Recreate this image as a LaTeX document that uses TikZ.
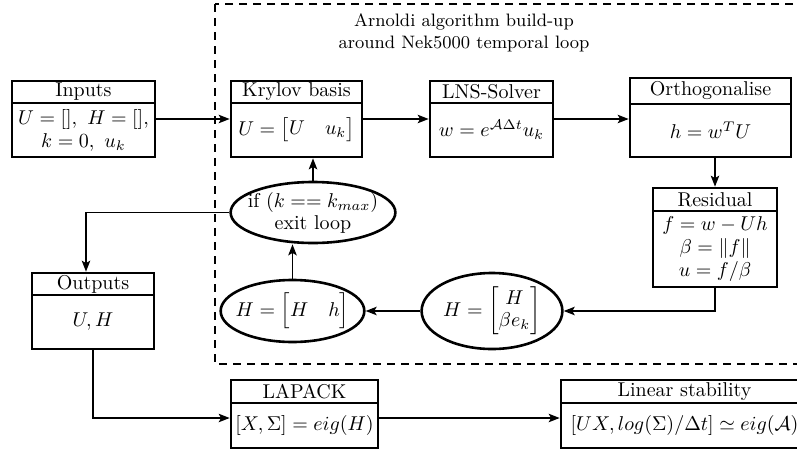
\documentclass[tikz,border=0pt]{standalone}
\usepackage{amsmath}
\usetikzlibrary{arrows.meta,shapes.geometric,calc}
\tikzset{
  boxframe/.style={draw, line width=1.3pt, inner sep=0pt},
  boxline/.style={line width=1.3pt},
  hdr/.style={inner sep=0pt, align=center},
  bodytxt/.style={inner sep=0pt, align=center, font=\fontsize{10}{11.5}\selectfont},
  oval/.style={draw, ellipse, line width=1.3pt, align=center, font=\fontsize{10}{11}\selectfont},
  conn/.style={line width=0.9pt, -{Stealth[length=5.5pt,width=4.2pt,inset=1.2pt]}},
  loopframe/.style={line width=1pt, dash pattern=on 4pt off 3pt},
}
\newcommand{\mysplitbox}[8]{%
  \node[boxframe, minimum width={(#3-#2)*0.5pt}, minimum height={(#6-#4)*0.5pt}] (#1) at ({(#2+#3)/2},{(#4+#6)/2}) {};
  \node[hdr] (#1-h) at ({(#2+#3)/2},{(#4+#5)/2}) {#7};
  \draw[boxline] (#2,#5) -- (#3,#5);
  \node[bodytxt] (#1-b) at ({(#2+#3)/2},{(#5+#6)/2}) {#8};
}
\begin{document}
\begin{tikzpicture}[x=0.5pt, y=-0.5pt]
\useasboundingbox (0,0) rectangle (797,450);
\clip (0,0) rectangle (797,450);

% loop frame
\draw[loopframe] (215,4) rectangle (830,364);
\node[hdr, font=\small] (title) at (464,33) {Arnoldi algorithm build-up\\around Nek5000 temporal loop};

% boxes
\mysplitbox{inp}{12}{155}{81}{103}{157}{Inputs}{$U=[],\ H=[],$\\$k=0,\ u_k$}
\mysplitbox{kry}{231}{362}{81}{103}{157}{Krylov basis}{$U=\begin{bmatrix}U & u_k\end{bmatrix}$}
\mysplitbox{lns}{430}{553}{81}{103}{157}{LNS-Solver}{$w=e^{\mathcal{A}\Delta t}u_k$}
\mysplitbox{orth}{630}{791}{78}{104}{157}{Orthogonalise}{$h=w^TU$}
\mysplitbox{res}{653}{777}{188}{211}{287}{Residual}{$f=w-Uh$\\$\beta=\|f\|$\\$u=f/\beta$}
\mysplitbox{outs}{32}{154}{273}{295}{349}{Outputs}{$U,H$}
\mysplitbox{lap}{231}{378}{380}{403}{448}{LAPACK}{$[X,\Sigma]=eig(H)$}
\mysplitbox{lin}{561}{808}{380}{403}{448}{Linear stability}{$[UX,log(\Sigma)/\Delta t]\simeq eig(\mathcal{A})$}

% ellipses
\node[oval, inner xsep=0.5pt, inner ysep=0.5pt, minimum width=70pt, minimum height=38pt] (hbeta) at (492,311) {$H=\begin{bmatrix}H\\ \beta e_k\end{bmatrix}$};
\node[oval, inner xsep=-3pt, inner ysep=0pt, minimum width=69.5pt, minimum height=31pt] (hh) at (292.5,311) {$H=\Bigl[H\quad h\Bigr]$};
\node[oval, inner xsep=-3.5pt, inner ysep=0pt, minimum width=81pt, minimum height=30.5pt] (ifn) at (313,212.5) {if $(k==k_{max})$\\exit loop};

% connectors
\draw[conn] (inp.east) -- (kry.west);
\draw[conn] (kry.east) -- (lns.west);
\draw[conn] (lns.east) -- (lns.east -| orth.west);
\draw[conn] (res.north |- orth.south) -- (res.north);
\draw[conn] (res.south) |- (hbeta.east);
\draw[conn] (hbeta.west) -- (hh.east);
\draw[conn] (hh.north) -- (hh.north |- ifn.south);
\draw[conn] (ifn.north) -- (ifn.north |- kry.south);
\draw[conn] (ifn.west) -| ([xshift=-3.5pt]outs.north);
\draw[conn] (outs.south) |- ([yshift=-2pt]lap.west);
\draw[conn] ([yshift=-2pt]lap.east) -- ([yshift=-2pt]lin.west);
\end{tikzpicture}
\end{document}
